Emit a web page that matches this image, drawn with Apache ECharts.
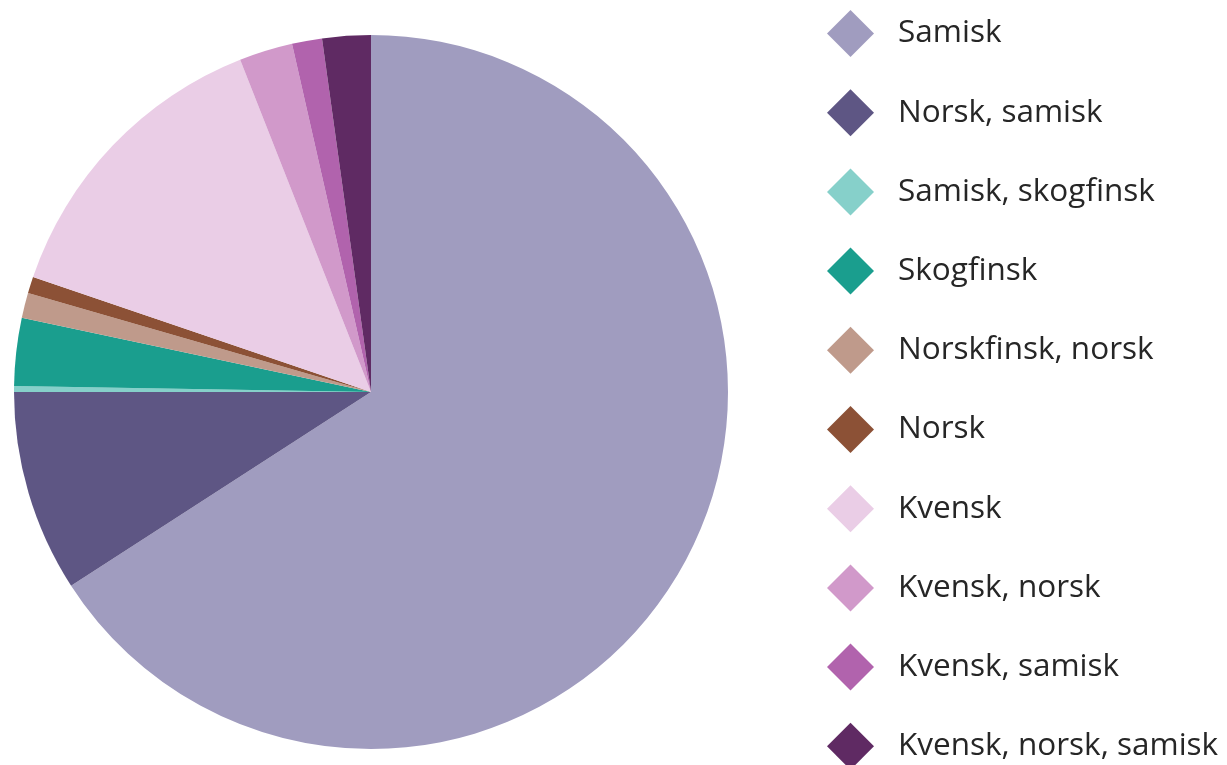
<!DOCTYPE html>
<html>
<head>
<meta charset="utf-8">
<script src="https://cdn.jsdelivr.net/npm/echarts@6/dist/echarts.min.js"></script>
<style>html,body{margin:0;padding:0;background:#fff;}#c{width:1227px;height:765px;}</style>
</head>
<body>
<div id="c"></div>
<script>
var categories = ["Samisk", "Norsk, samisk", "Samisk, skogfinsk", "Skogfinsk", "Norskfinsk, norsk", "Norsk", "Kvensk", "Kvensk, norsk", "Kvensk, samisk", "Kvensk, norsk, samisk"];
var values = [65.85, 9.12, 0.27, 3.06, 1.14, 0.75, 13.8, 2.42, 1.36, 2.19];
var colors = ["#a09cbf", "#5e5684", "#86d0ca", "#1a9e8e", "#bf9a8b", "#8c5136", "#eacde6", "#d199ca", "#b163ad", "#5f2a63"];

var chart = echarts.init(document.getElementById('c'));
chart.setOption({
  animation: false,
  color: colors,
  legend: {
    orient: 'vertical',
    left: 827,
    top: 10,
    height: 820,
    width: 400,
    padding: 0,
    icon: 'diamond',
    itemWidth: 47,
    itemHeight: 47,
    itemGap: 32.2,
    selectedMode: false,
    data: categories,
    textStyle: {
      fontFamily: 'Open Sans',
      fontSize: 31.5,
      color: '#262626',
      padding: [0, 0, 0, 19]
    }
  },
  series: [{
    type: 'pie',
    center: [371, 392],
    radius: 357,
    startAngle: 90,
    clockwise: true,
    label: { show: false },
    labelLine: { show: false },
    itemStyle: { borderWidth: 0 },
    emphasis: { disabled: true },
    data: categories.map(function (c, i) { return { name: c, value: values[i] }; })
  }]
});
</script>
</body>
</html>
